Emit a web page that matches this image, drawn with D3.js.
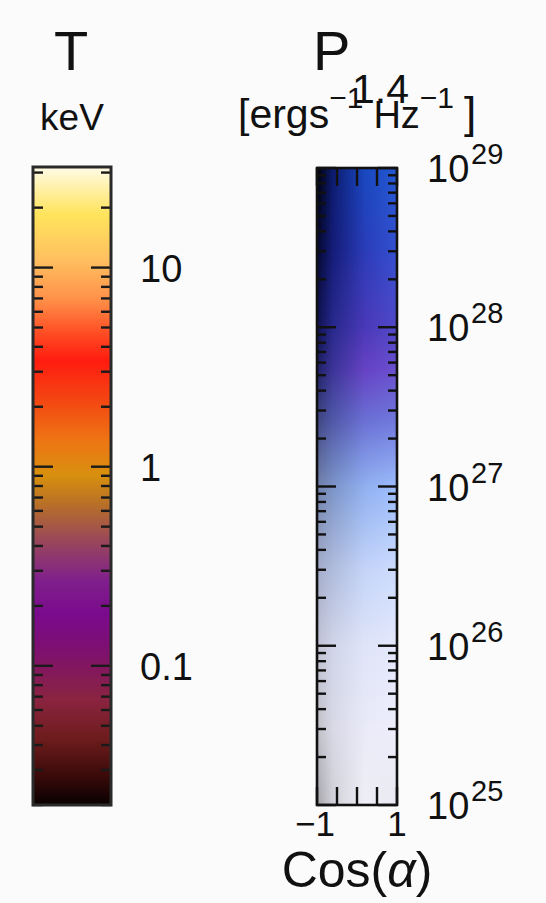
<!DOCTYPE html>
<html><head><meta charset="utf-8">
<script src="https://cdn.jsdelivr.net/npm/d3@7"></script>
<style>
body{margin:0;background:#fbfbfb;}
svg text{font-family:"Liberation Sans",Arial,Helvetica,sans-serif;fill:#111;}
</style>
</head><body>
<svg id="c" width="546" height="903"></svg>
<script>
// ---- Temperature colour bar (keV) ----
const tempDomain = [0.02, 32];
const tempTicks = [0.1, 1, 10];
const tempTickLabels = ["0.1", "1", "10"];
const tempStopValues = [32, 18.5, 11, 6.9, 4.6, 3.4, 2.2, 1.37, 0.91, 0.65, 0.43, 0.27, 0.18, 0.12, 0.068, 0.043, 0.028, 0.02];
const tempStopColors = ["#fffbe6", "#ffe45c", "#ffc060", "#ff9048", "#ff4a22", "#ff1c10", "#f44412", "#ee7414", "#d8900e", "#b87028", "#9a4858", "#80208c", "#7a0a8c", "#7e1070", "#8a2440", "#6e1c1c", "#3a0a0a", "#080000"];

// ---- Power colour bar (erg s^-1 Hz^-1) vs Cos(alpha) ----
const powerDomain = [1e25, 1e29];
const powerTicks = [1e25, 1e26, 1e27, 1e28, 1e29];
const powerTickExponents = ["25", "26", "27", "28", "29"];
const powerStopValues = [1e29, 3.1e28, 1e28, 5.4e27, 2.6e27, 1e27, 3e26, 1e26, 3e25, 1e25];
const cosStops = [-1, -0.6, 0.2, 1];
const powerColorsCosM1 = ["#000006", "#040830", "#0e1250", "#1e2064", "#404680", "#7080a8", "#a4acc8", "#c0c2d2", "#c0c0c8", "#a4a4a8"];
const powerColorsCosM06 = ["#0c1c70", "#141c78", "#28288c", "#3c3498", "#5058a8", "#7c94c8", "#b0bcdc", "#d0d4e8", "#d8d8e6", "#d0d0d8"];
const powerColorsCos02 = ["#1848c0", "#2a3cb8", "#4a38b8", "#6642c4", "#6a70d4", "#90b0f0", "#c4d4f8", "#dfe4f8", "#eaeaf8", "#efeff6"];
const powerColorsCos1 = ["#2458d4", "#3450d0", "#5048c8", "#6a50d0", "#7078dc", "#9cbcfc", "#ccdcfe", "#e4e8fc", "#eeeefc", "#e8e8f0"];
const cosDomain = [-1, 1];
const cosTicks = [-1, -0.5, 0, 0.5, 1];
const cosTickLabels = ["\u22121", "", "", "", "1"];

const svg = d3.select("#c");
const defs = svg.append("defs");

function minorTicks(domain) {
  const out = [];
  const lo = Math.floor(Math.log10(domain[0])), hi = Math.ceil(Math.log10(domain[1]));
  for (let e = lo; e <= hi; e++) for (let k = 1; k <= 9; k++) {
    const v = k * Math.pow(10, e);
    if (v >= domain[0] * 0.999 && v <= domain[1] * 1.001) out.push(v);
  }
  return out;
}
function isMajor(v) { const l = Math.log10(v); return Math.abs(l - Math.round(l)) < 1e-6; }

// ===== Left bar =====
const L = {x0: 33, x1: 111, y0: 167, y1: 805};
const yT = d3.scaleLog().domain(tempDomain).range([L.y1, L.y0]);
const gT = defs.append("linearGradient").attr("id", "gT")
  .attr("gradientUnits", "userSpaceOnUse").attr("x1", 0).attr("x2", 0).attr("y1", L.y0).attr("y2", L.y1);
gT.selectAll("stop").data(tempStopValues).join("stop")
  .attr("offset", d => (yT(d) - L.y0) / (L.y1 - L.y0))
  .attr("stop-color", (d, i) => tempStopColors[i]);
svg.append("rect").attr("x", L.x0).attr("y", L.y0).attr("width", L.x1 - L.x0).attr("height", L.y1 - L.y0)
  .attr("fill", "url(#gT)");
const tT = minorTicks(tempDomain);
const tg = svg.append("g").attr("stroke", "#1a1a1a").attr("stroke-width", 2.4);
tT.forEach(v => {
  const len = isMajor(v) ? 20 : 10, y = yT(v);
  tg.append("line").attr("x1", L.x0).attr("x2", L.x0 + len).attr("y1", y).attr("y2", y);
  tg.append("line").attr("x1", L.x1).attr("x2", L.x1 - len).attr("y1", y).attr("y2", y);
});
svg.append("rect").attr("x", L.x0).attr("y", L.y0).attr("width", L.x1 - L.x0).attr("height", L.y1 - L.y0)
  .attr("fill", "none").attr("stroke", "#2a2a2a").attr("stroke-width", 3);
svg.selectAll("text.tl").data(tempTicks).join("text").attr("class", "tl")
  .attr("x", 140).attr("y", d => yT(d) + 14).attr("font-size", 38)
  .text((d, i) => tempTickLabels[i]);
svg.append("text").attr("x", 71).attr("y", 70).attr("text-anchor", "middle").attr("font-size", 56).text("T");
svg.append("text").attr("x", 72).attr("y", 130).attr("text-anchor", "middle").attr("font-size", 37).text("keV");

// ===== Right bar =====
const R = {x0: 317, x1: 397, y0: 168, y1: 805};
const yP = d3.scaleLog().domain(powerDomain).range([R.y1, R.y0]);
const xC = d3.scaleLinear().domain(cosDomain).range([R.x0, R.x1]);
const colSets = [powerColorsCosM1, powerColorsCosM06, powerColorsCos02, powerColorsCos1];
const nCols = 40, colW = (R.x1 - R.x0) / nCols;
const cols = d3.range(nCols).map(i => cosDomain[0] + (i + 0.5) * (cosDomain[1] - cosDomain[0]) / nCols);
cols.forEach((c, i) => {
  const g = defs.append("linearGradient").attr("id", "gP" + i)
    .attr("gradientUnits", "userSpaceOnUse").attr("x1", 0).attr("x2", 0).attr("y1", R.y0).attr("y2", R.y1);
  powerStopValues.forEach((p, j) => {
    const sc = d3.scaleLinear().domain(cosStops).range(colSets.map(s => s[j])).interpolate(d3.interpolateRgb);
    g.append("stop").attr("offset", (yP(p) - R.y0) / (R.y1 - R.y0)).attr("stop-color", sc(c));
  });
  svg.append("rect").attr("x", xC(c) - colW / 2).attr("y", R.y0).attr("width", colW + 0.6).attr("height", R.y1 - R.y0)
    .attr("fill", "url(#gP" + i + ")");
});
const pg = svg.append("g").attr("stroke", "#111").attr("stroke-width", 2.4);
minorTicks(powerDomain).forEach(v => {
  const len = isMajor(v) ? 19 : 9, y = yP(v);
  pg.append("line").attr("x1", R.x0).attr("x2", R.x0 + len).attr("y1", y).attr("y2", y);
  pg.append("line").attr("x1", R.x1).attr("x2", R.x1 - len).attr("y1", y).attr("y2", y);
});
cosTicks.forEach(c => {
  const x = xC(c);
  pg.append("line").attr("x1", x).attr("x2", x).attr("y1", R.y1).attr("y2", R.y1 - 18);
  pg.append("line").attr("x1", x).attr("x2", x).attr("y1", R.y0).attr("y2", R.y0 + 18);
});
svg.append("rect").attr("x", R.x0).attr("y", R.y0).attr("width", R.x1 - R.x0).attr("height", R.y1 - R.y0)
  .attr("fill", "none").attr("stroke", "#111").attr("stroke-width", 2.6);
powerTicks.forEach((p, i) => {
  const y = yP(p);
  svg.append("text").attr("x", 427).attr("y", y + 14).attr("font-size", 38).text("10");
  svg.append("text").attr("x", 471).attr("y", y - 4).attr("font-size", 29).text(powerTickExponents[i]);
});
cosTicks.forEach((c, i) => {
  if (!cosTickLabels[i]) return;
  svg.append("text").attr("x", xC(c) + (c < 0 ? -2 : 0)).attr("y", 836).attr("text-anchor", "middle")
    .attr("font-size", 35).text(cosTickLabels[i]);
});
const cl = svg.append("text").attr("x", 357).attr("y", 887).attr("text-anchor", "middle").attr("font-size", 50);
cl.append("tspan").text("Cos(");
cl.append("tspan").attr("font-style", "italic").text("\u03b1");
cl.append("tspan").text(")");

// titles
svg.append("text").attr("x", 313).attr("y", 70).attr("font-size", 56).text("P");
svg.append("text").attr("x", 352).attr("y", 103).attr("font-size", 41).text("1.4");
const u = svg.append("text").attr("x", 238).attr("y", 128).attr("font-size", 41);
u.append("tspan").text("[ergs");
u.append("tspan").attr("font-size", 30).attr("dy", -20).text("\u22121");
u.append("tspan").attr("font-size", 38).attr("dy", 20).attr("dx", 10).text("Hz");
u.append("tspan").attr("font-size", 30).attr("dy", -20).text("\u22121");
u.append("tspan").attr("font-size", 44).attr("dy", 20).attr("dx", 10).text("]");
</script>
</body></html>
